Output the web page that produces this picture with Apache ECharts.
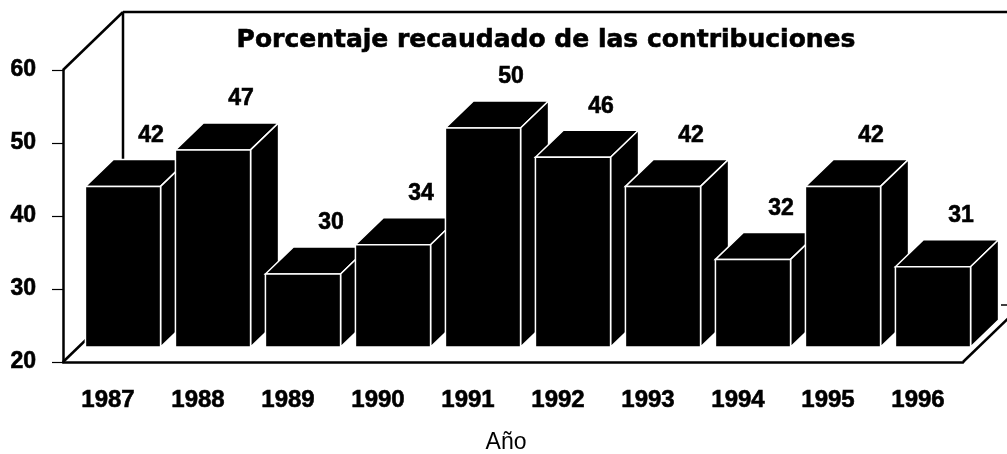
<!DOCTYPE html>
<html>
<head>
<meta charset="utf-8">
<script src="https://cdn.jsdelivr.net/npm/echarts@6/dist/echarts.min.js"></script>
<style>
html,body{margin:0;padding:0;background:#fff;}
#chart{width:1007px;height:454px;}
</style>
</head>
<body>
<div id="chart"></div>
<script>
const titleText = 'Porcentaje recaudado de las contribuciones';
const xAxisName = 'Año';
const categories = ['1987','1988','1989','1990','1991','1992','1993','1994','1995','1996'];
const values = [42, 47, 30, 34, 50, 46, 42, 32, 42, 31];
const yMin = 20, yMax = 60, yStep = 10;

const FONT = '"Liberation Sans", Arial, Helvetica, sans-serif';
const TITLE_FONT = '"DejaVu Sans", "Liberation Sans", sans-serif';
const chart = echarts.init(document.getElementById('chart'), null, {renderer: 'canvas'});

// pseudo-3D geometry (pixels)
const PLANE = [15, -15];   // bar plane offset from the front plane
const DEPTH = [28, -27];   // bar depth
const WALL = [60, -58];    // back wall offset

function renderItem(params, api) {
  const i = api.value(0), v = api.value(1);
  const top = api.coord([i, v]);
  const base = api.coord([i, yMin]);
  const band = api.size([1, 0])[0];
  const w = band * 0.835;
  const x0 = top[0] + PLANE[0] - w / 2, x1 = x0 + w;
  const yT = top[1] + PLANE[1], yB = base[1] + PLANE[1];
  const st = {fill: '#000', stroke: '#fff', lineWidth: 1.5, lineJoin: 'miter'};
  return {
    type: 'group',
    children: [
      {type: 'polygon', shape: {points: [[x0, yT], [x0 + DEPTH[0], yT + DEPTH[1]], [x1 + DEPTH[0], yT + DEPTH[1]], [x1, yT]]}, style: st},
      {type: 'polygon', shape: {points: [[x1, yT], [x1 + DEPTH[0], yT + DEPTH[1]], [x1 + DEPTH[0], yB + DEPTH[1]], [x1, yB]]}, style: st},
      {type: 'polygon', shape: {points: [[x0, yT], [x1, yT], [x1, yB], [x0, yB]]}, style: st},
      {type: 'text', style: {
        text: String(v), x: (x0 + x1) / 2 + DEPTH[0], y: yT + DEPTH[1] - 24,
        align: 'center', verticalAlign: 'middle',
        font: 'bold 23px ' + FONT, fill: '#000', stroke: '#000', lineWidth: 0.6
      }}
    ]
  };
}

const heavy = {textBorderColor: '#000', textBorderWidth: 0.6};
const option = {
  backgroundColor: '#fff',
  animation: false,
  title: {
    text: titleText, left: 541, top: 23, textAlign: 'center',
    textStyle: Object.assign({fontFamily: TITLE_FONT, fontWeight: 'bold', fontSize: 25, color: '#000'}, heavy)
  },
  grid: {left: 63, right: 44, top: 70, bottom: 92, containLabel: false, outerBoundsMode: 'none'},
  xAxis: {
    type: 'category', data: categories,
    name: xAxisName, nameLocation: 'middle', nameGap: 69,
    nameTextStyle: {fontFamily: FONT, fontSize: 23, color: '#000', padding: [0, 14, 0, 0]},
    axisLine: {lineStyle: {color: '#000', width: 2.5}},
    axisTick: {alignWithLabel: true, length: 14, lineStyle: {color: '#000', width: 1.2}},
    axisLabel: Object.assign({fontFamily: FONT, fontWeight: 'bold', fontSize: 24, color: '#000', margin: 26}, heavy)
  },
  yAxis: {
    type: 'value', min: yMin, max: yMax, interval: yStep,
    axisLine: {show: true, lineStyle: {color: '#000', width: 2.5}},
    axisTick: {show: true, length: 11, lineStyle: {color: '#000', width: 1.2}},
    splitLine: {show: false},
    axisLabel: Object.assign({fontFamily: FONT, fontWeight: 'bold', fontSize: 23, color: '#000', margin: 27}, heavy)
  },
  series: [{
    type: 'custom', z: 5, renderItem: renderItem,
    encode: {x: 0, y: 1},
    data: values.map((v, i) => [i, v])
  }]
};
chart.setOption(option);

// frame (back wall + floor) computed from the axes
const n = categories.length;
const band = chart.getModel().getComponent('xAxis', 0).axis.getBandWidth();
const leftX = chart.convertToPixel({xAxisIndex: 0}, 0) - band / 2;
const rightX = leftX + band * n;
const topY = chart.convertToPixel({yAxisIndex: 0}, yMax);
const botY = chart.convertToPixel({yAxisIndex: 0}, yMin);
const lw = 2.5;
const line = (x1, y1, x2, y2, w) => ({type: 'line', z: 1, shape: {x1, y1, x2, y2}, style: {stroke: '#000', lineWidth: w || lw}});
chart.setOption({
  graphic: [
    line(leftX, topY, leftX + WALL[0], topY + WALL[1]),
    line(leftX + WALL[0], topY + WALL[1], rightX + WALL[0], topY + WALL[1]),
    line(leftX + WALL[0], topY + WALL[1], leftX + WALL[0], botY + WALL[1]),
    line(leftX, botY, leftX + WALL[0], botY + WALL[1]),
    line(rightX, botY, rightX + WALL[0], botY + WALL[1]),
    line(rightX + WALL[0] - 22, botY + WALL[1] + 1, rightX + WALL[0] - 10, botY + WALL[1] + 1, 1.5)
  ]
});
</script>
</body>
</html>
